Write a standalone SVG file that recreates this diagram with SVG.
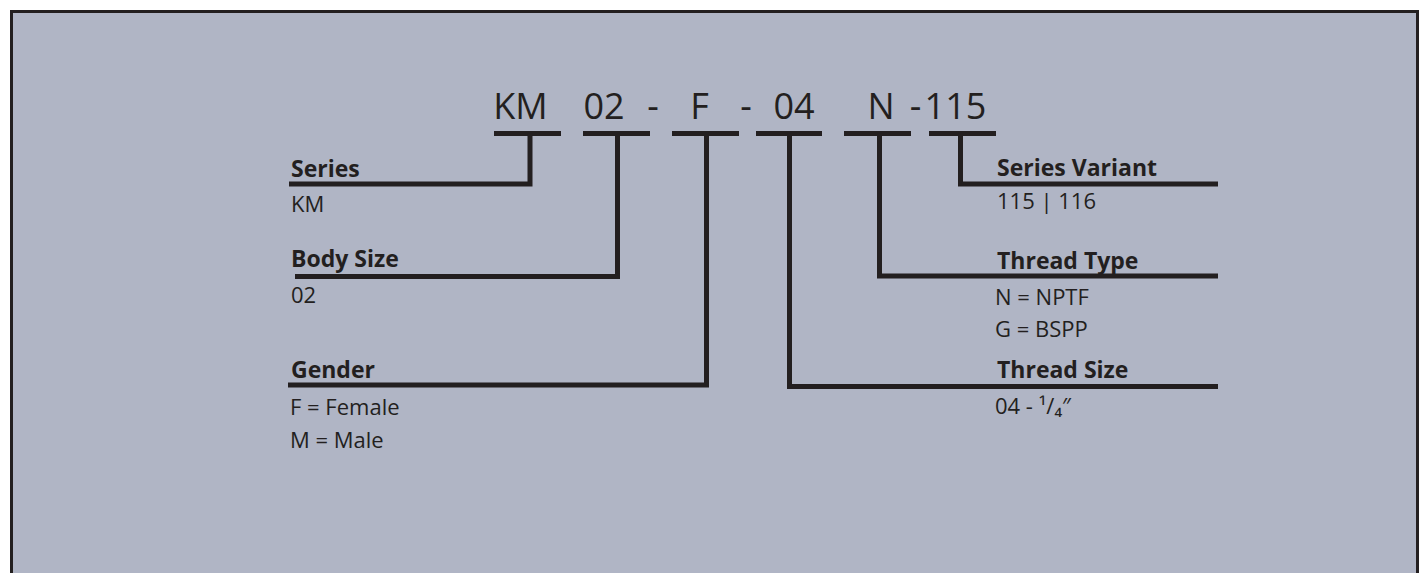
<svg xmlns="http://www.w3.org/2000/svg" width="1420" height="573" viewBox="0 0 1420 573">
<style>
.code{font-family:"Open Sans","Liberation Sans",sans-serif;font-size:36px;fill:#231f20;text-anchor:middle}
.h{font-family:"Open Sans","Liberation Sans",sans-serif;font-size:23px;font-weight:bold;fill:#231f20}
.t{font-family:"Open Sans","Liberation Sans",sans-serif;font-size:22px;fill:#231f20}
.ln{fill:none;stroke:#231f20;stroke-width:5;stroke-linejoin:miter;stroke-linecap:butt}
</style>
<rect x="0" y="0" width="1420" height="573" fill="#ffffff"/>
<rect x="11.5" y="11.5" width="1406" height="600" fill="#b0b5c5" stroke="#231f20" stroke-width="3"/>
<g id="code">
<text class="code" x="520.5" y="119">KM</text>
<text class="code" x="604" y="119">02</text>
<text class="code" x="653" y="119">-</text>
<text class="code" x="699.5" y="119">F</text>
<text class="code" x="746" y="119">-</text>
<text class="code" x="794" y="119">04</text>
<text class="code" x="881" y="119">N</text>
<text class="code" x="915.5" y="119">-</text>
<text class="code" x="955.5" y="119">115</text>
</g>
<g id="connectors">
<path class="ln" d="M494,133.5H561M583,133.5H650M672,133.5H739M756,133.5H822M844,133.5H911M929,133.5H996"/>
<path class="ln" d="M530,133.5V184H289"/>
<path class="ln" d="M617.5,133.5V276.5H295"/>
<path class="ln" d="M706.5,133.5V385H288"/>
<path class="ln" d="M789.5,133.5V386.5H1218"/>
<path class="ln" d="M879.5,133.5V276H1218"/>
<path class="ln" d="M960.5,133.5V184H1218"/>
</g>
<g id="series"><text class="h" x="291" y="177">Series</text><text class="t" x="291" y="212">KM</text></g>
<g id="body-size"><text class="h" x="291" y="267">Body Size</text><text class="t" x="291" y="303">02</text></g>
<g id="gender"><text class="h" x="291" y="378">Gender</text><text class="t" x="290" y="415">F = Female</text><text class="t" x="290" y="448">M = Male</text></g>
<g id="series-variant"><text class="h" x="997" y="176">Series Variant</text><text class="t" x="997" y="209">115 | 116</text></g>
<g id="thread-type"><text class="h" x="997" y="269">Thread Type</text><text class="t" x="995" y="305">N = NPTF</text><text class="t" x="995" y="337">G = BSPP</text></g>
<g id="thread-size"><text class="h" x="997" y="378">Thread Size</text><text class="t" x="995" y="414">04 - ¹/₄″</text></g>
</svg>
